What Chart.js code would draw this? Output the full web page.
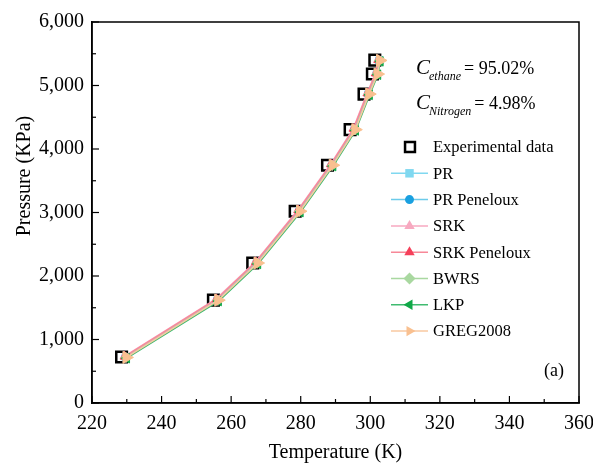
<!DOCTYPE html>
<html>
<head>
<meta charset="utf-8">
<script src="https://cdn.jsdelivr.net/npm/chart.js@4.4.0/dist/chart.umd.min.js"></script>
<style>
html,body{margin:0;padding:0;background:#fff;}
#wrap{width:593px;height:463px;}
</style>
</head>
<body>
<div id="wrap"><canvas id="c" width="593" height="463"></canvas></div>
<script>
// ---- data ----
const seriesNames = ["Experimental data","PR","PR Peneloux","SRK","SRK Peneloux","BWRS","LKP","GREG2008"];
const expT  = [228.5, 254.9, 266.2, 278.4, 287.7, 294.2, 298.2, 300.6, 301.3];
const expP  = [725, 1620, 2205, 3020, 3745, 4305, 4865, 5180, 5400];
const prT   = [229.7, 256.1, 267.4, 279.6, 289.0, 295.5, 299.5, 301.9, 302.6];
const prP   = [722, 1625, 2210, 3025, 3750, 4310, 4870, 5185, 5395];
const prpT  = [229.6, 256.0, 267.3, 279.5, 288.9, 295.4, 299.4, 301.8, 302.5];
const prpP  = [720, 1622, 2206, 3022, 3746, 4306, 4866, 5182, 5392];
const srkT  = [229.3, 255.7, 267.0, 279.2, 288.6, 295.1, 299.1, 301.5, 302.2];
const srkP  = [735, 1640, 2225, 3040, 3762, 4322, 4880, 5195, 5405];
const srkpT = [229.4, 255.8, 267.1, 279.3, 288.7, 295.2, 299.2, 301.6, 302.3];
const srkpP = [730, 1635, 2220, 3035, 3758, 4318, 4876, 5190, 5400];
const bwrsT = [229.8, 256.2, 267.5, 279.7, 289.1, 295.6, 299.6, 302.0, 302.7];
const bwrsP = [715, 1615, 2200, 3015, 3740, 4300, 4860, 5178, 5388];
const lkpT  = [230.0, 256.4, 267.7, 279.9, 289.3, 295.8, 299.8, 302.2, 302.9];
const lkpP  = [705, 1605, 2190, 3005, 3730, 4292, 4852, 5170, 5380];
const gregT = [229.9, 256.3, 267.6, 279.8, 289.2, 295.7, 299.7, 302.1, 302.8];
const gregP = [718, 1620, 2204, 3020, 3745, 4305, 4865, 5180, 5395];
const xTicks = [220, 240, 260, 280, 300, 320, 340, 360];
const yTicks = [0, 1000, 2000, 3000, 4000, 5000, 6000];
const annot1 = {sub: "ethane", value: "= 95.02%"};
const annot2 = {sub: "Nitrogen", value: "= 4.98%"};
const panelLabel = "(a)";
const xTitle = "Temperature (K)";
const yTitle = "Pressure (KPa)";

const pts = (t, p) => t.map((v, i) => ({x: v, y: p[i]}));
const SERIF = "'Liberation Serif','Times New Roman',serif";

function ds(label, t, p, line, mark, style, rot, order, rad) {
  return {
    label, data: pts(t, p), showLine: true, borderColor: line, borderWidth: 1.5,
    pointStyle: style, pointRotation: rot, pointRadius: rad, pointBackgroundColor: mark,
    pointBorderColor: mark, pointBorderWidth: 1, order, tension: 0
  };
}

const datasets = [
  {label: seriesNames[0], data: pts(expT, expP), showLine: false, pointStyle: 'rect',
   pointRadius: 7.5, pointBorderWidth: 2.5, pointBorderColor: '#000', pointBackgroundColor: 'rgba(0,0,0,0)', order: 20},
  ds(seriesNames[1], prT, prP, '#80d8f0', '#80d8f0', 'rect', 0, 8, 5),
  ds(seriesNames[2], prpT, prpP, '#6ccbea', '#1aa0e0', 'circle', 0, 7, 4),
  ds(seriesNames[3], srkT, srkP, '#f7a9c0', '#f7a9c0', 'triangle', 0, 6, 5),
  ds(seriesNames[4], srkpT, srkpP, '#f78898', '#f5405a', 'triangle', 0, 5, 5),
  ds(seriesNames[5], bwrsT, bwrsP, '#a9d8a0', '#a9d8a0', 'rectRot', 0, 4, 5),
  ds(seriesNames[6], lkpT, lkpP, '#40bb70', '#10a848', 'triangle', -90, 3, 5.5),
  ds(seriesNames[7], gregT, gregP, '#f9c8a0', '#f9c090', 'triangle', 90, 2, 7)
];

function marker(ctx, style, rot, x, y, r, fill, stroke, lw) {
  ctx.save();
  ctx.translate(x, y);
  ctx.rotate(rot * Math.PI / 180);
  ctx.beginPath();
  if (style === 'rect') { const s = r * Math.SQRT1_2; ctx.rect(-s, -s, 2 * s, 2 * s); }
  else if (style === 'circle') { ctx.arc(0, 0, r, 0, Math.PI * 2); }
  else if (style === 'rectRot') { ctx.moveTo(0, -r); ctx.lineTo(r, 0); ctx.lineTo(0, r); ctx.lineTo(-r, 0); ctx.closePath(); }
  else if (style === 'triangle') {
    ctx.moveTo(0, -r);
    ctx.lineTo(r * Math.sin(Math.PI * 2 / 3), -r * Math.cos(Math.PI * 2 / 3));
    ctx.lineTo(r * Math.sin(Math.PI * 4 / 3), -r * Math.cos(Math.PI * 4 / 3));
    ctx.closePath();
  }
  if (fill) { ctx.fillStyle = fill; ctx.fill(); }
  if (stroke) { ctx.strokeStyle = stroke; ctx.lineWidth = lw; ctx.stroke(); }
  ctx.restore();
}

const decor = {
  id: 'decor',
  afterDraw(chart) {
    const ctx = chart.ctx, a = chart.chartArea;
    const xs = chart.scales.x, ys = chart.scales.y;
    ctx.save();
    // frame
    ctx.strokeStyle = '#000'; ctx.lineWidth = 1.5;
    ctx.strokeRect(a.left, a.top, a.right - a.left, a.bottom - a.top);
    // inner ticks
    ctx.lineWidth = 1.2;
    for (let v = 220; v <= 360; v += 10) {
      const px = xs.getPixelForValue(v);
      const len = (v % 20 === 0) ? 7 : 4;
      ctx.beginPath(); ctx.moveTo(px, a.bottom); ctx.lineTo(px, a.bottom - len); ctx.stroke();
    }
    for (let v = 0; v <= 6000; v += 500) {
      const py = ys.getPixelForValue(v);
      const len = (v % 1000 === 0) ? 7 : 4;
      ctx.beginPath(); ctx.moveTo(a.left, py); ctx.lineTo(a.left + len, py); ctx.stroke();
    }
    // axis titles
    ctx.fillStyle = '#000';
    ctx.font = '20px ' + SERIF;
    ctx.textAlign = 'center'; ctx.textBaseline = 'middle';
    ctx.fillText(xTitle, (a.left + a.right) / 2, 453);
    ctx.save(); ctx.translate(25, 176); ctx.rotate(-Math.PI / 2); ctx.fillText(yTitle, 0, 0); ctx.restore();
    // annotations
    ctx.textAlign = 'left'; ctx.textBaseline = 'alphabetic';
    function annot(y, o) {
      let x = 416;
      ctx.font = 'italic 21px ' + SERIF; ctx.fillText('C', x, y); x += ctx.measureText('C').width - 1;
      ctx.font = 'italic 12px ' + SERIF; ctx.fillText(o.sub, x, y + 6); x += ctx.measureText(o.sub).width + 3;
      ctx.font = '18px ' + SERIF; ctx.fillText(o.value, x, y);
    }
    annot(74, annot1);
    annot(109, annot2);
    // panel label
    ctx.font = '18px ' + SERIF; ctx.textAlign = 'center'; ctx.textBaseline = 'middle';
    ctx.fillText(panelLabel, 554, 371);
    // legend
    const rowY0 = 147, dy = 26.3;
    chart.data.datasets.forEach((d, i) => {
      const y = rowY0 + i * dy;
      if (i === 0) {
        marker(ctx, 'rect', 0, 410, y, 7, null, '#000', 2.5);
      } else {
        ctx.strokeStyle = d.borderColor; ctx.lineWidth = 1.5;
        ctx.beginPath(); ctx.moveTo(391, y); ctx.lineTo(428, y); ctx.stroke();
        marker(ctx, d.pointStyle, d.pointRotation, 409.5, y, d.pointStyle === 'circle' ? 4.5 : 6, d.pointBackgroundColor, null, 0);
      }
      ctx.fillStyle = '#000'; ctx.font = '16.5px ' + SERIF;
      ctx.textAlign = 'left'; ctx.textBaseline = 'middle';
      ctx.fillText(d.label, 433, y + 1);
    });
    ctx.restore();
  }
};

new Chart(document.getElementById('c'), {
  type: 'scatter',
  data: {datasets},
  options: {
    responsive: false, animation: false, devicePixelRatio: 1,
    layout: {padding: {left: 0, top: 22, right: 0, bottom: 0}},
    plugins: {legend: {display: false}, tooltip: {enabled: false}},
    scales: {
      x: {
        type: 'linear', min: 220, max: 360,
        afterBuildTicks: s => { s.ticks = xTicks.map(v => ({value: v})); },
        afterFit: s => { s.height = 60; s.paddingRight = 14; s.paddingLeft = 0; },
        grid: {display: false, drawTicks: false}, border: {display: true, color: '#000', width: 1.5},
        ticks: {color: '#000', font: {family: SERIF, size: 20}, padding: 9, maxRotation: 0, autoSkip: false}
      },
      y: {
        type: 'linear', min: 0, max: 6000,
        afterBuildTicks: s => { s.ticks = yTicks.map(v => ({value: v})); },
        afterFit: s => { s.width = 92; },
        grid: {display: false, drawTicks: false}, border: {display: true, color: '#000', width: 1.5},
        ticks: {color: '#000', font: {family: SERIF, size: 20}, padding: 8,
          callback: v => v.toLocaleString('en-US')}
      }
    }
  },
  plugins: [decor]
});
</script>
</body>
</html>
